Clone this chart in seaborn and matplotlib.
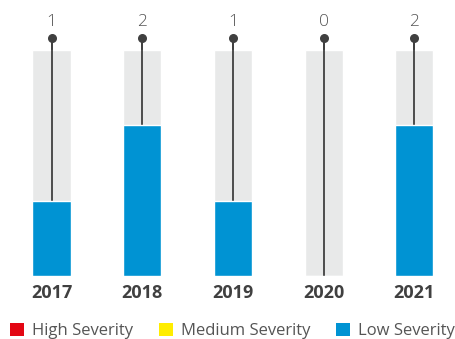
import matplotlib
matplotlib.use("Agg")
import matplotlib.pyplot as plt
import seaborn as sns
import pandas as pd
from matplotlib.patches import Patch

years = ["2017", "2018", "2019", "2020", "2021"]
high = [0, 0, 0, 0, 0]
medium = [0, 0, 0, 0, 0]
low = [1, 2, 1, 0, 2]
totals = [h + m + l for h, m, l in zip(high, medium, low)]
scale_max = 3
legend_labels = ["High Severity", "Medium Severity", "Low Severity"]
colors = ["#E30613", "#FFED00", "#0093D3"]
grey = "#E8E9E9"
dark = "#404040"

sns.set_theme(style="white")
plt.rcParams["font.family"] = ["Open Sans", "DejaVu Sans"]

df = pd.DataFrame({"year": years, "low": low, "total": totals,
                   "bg": [scale_max] * len(years)})

fig = plt.figure(figsize=(4.56, 3.39), dpi=100)
ax = fig.add_axes([0, 63 / 339, 1, 276 / 339])

sns.barplot(data=df, x="year", y="bg", color=grey, width=0.42, ax=ax,
            saturation=1, zorder=1)
ax.vlines(range(len(years)), df["total"], scale_max * 1.05, color=dark,
          lw=1.3, zorder=2)
sns.barplot(data=df, x="year", y="low", color=colors[2], width=0.42, ax=ax,
            saturation=1, zorder=3)
ax.vlines(range(len(years)), 0, scale_max * 1.05, color=dark, lw=1.3, zorder=0.5)
ax.scatter(range(len(years)), [scale_max * 1.05] * len(years), s=30,
           color=dark, zorder=4)
for i, t in enumerate(totals):
    ax.text(i, 3.31, str(t), ha="center", va="baseline",
            fontsize=12.5, color="#555555", fontweight="light")

ax.set_xlim(-0.568, 4.46)
ax.set_ylim(0, 3.656)
ax.set_xlabel("")
ax.set_ylabel("")
ax.set_yticks([])
ax.tick_params(axis="x", length=0, pad=6)
for lab in ax.get_xticklabels():
    lab.set_fontweight("bold")
    lab.set_fontsize(13)
    lab.set_color(dark)
for s in ax.spines.values():
    s.set_visible(False)

handles = [Patch(facecolor=c, edgecolor="none") for c in colors]
fig.legend(handles, legend_labels, loc="lower left", bbox_to_anchor=(0.0, -0.03),
           ncol=3, frameon=False, fontsize=12, labelcolor="#555555",
           handlelength=0.85, handleheight=0.85, handletextpad=0.5,
           columnspacing=1.5, borderaxespad=0.2)

fig.savefig("out.png", dpi=100)
